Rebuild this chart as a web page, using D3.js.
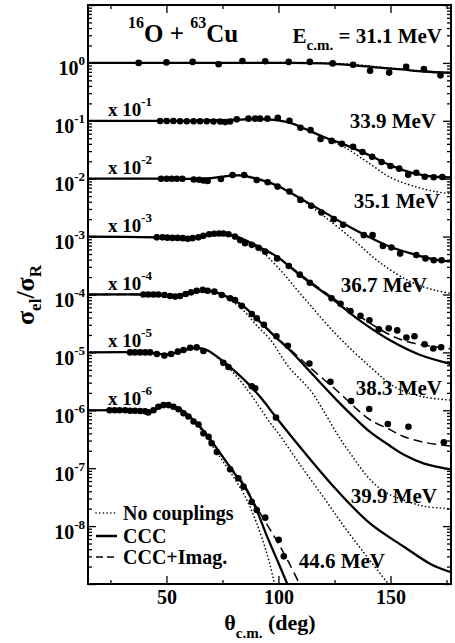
<!DOCTYPE html>
<html>
<head>
<meta charset="utf-8">
<script src="https://cdn.jsdelivr.net/npm/d3@7"></script>
<style>
  body { margin: 0; background: #fff; }
  svg text { font-family: "Liberation Serif", "Times New Roman", serif; font-weight: bold; fill: #000; }
</style>
</head>
<body>
<div id="chart"></div>
<script>
// elastic scattering 16O + 63Cu, ratio to Rutherford, each energy offset by 10^-k

// measured points [theta_cm, sigma/sigmaR]
const data311 = [[37.6,1.0],[50,1.02],[61.7,1.04],[73.3,0.95],[83.9,1.08],[94.1,1.07],[104.6,1.04],[114,1.04],[124.2,0.98],[133.3,0.93],[140.9,0.73],[149.4,0.68],[157,0.86],[164.9,0.78],[172.3,0.61]];
const data339 = [[47.2,0.99],[50.1,0.99],[53.1,0.99],[56.1,0.98],[59.1,0.98],[62.1,0.98],[65,0.98],[68,0.98],[71,0.97],[74,0.97],[76.2,0.95],[78.4,0.97],[81.4,1.06],[86.6,1.09],[89.6,1.09],[91.8,1.09],[95.1,1.09],[99.7,1.13],[104.9,1.0],[109.8,0.76],[114.3,0.69],[118.8,0.485],[123.7,0.45],[128.3,0.4],[133.3,0.357],[137.5,0.289],[141.8,0.24],[146,0.194],[150,0.166],[153.9,0.149],[157.9,0.117],[161.5,0.127],[165.3,0.108],[169.3,0.106],[173.1,0.107]];
const data351 = [[47.6,1.0],[50.1,1.0],[52.4,1.0],[54.6,1.0],[57.1,1.0],[62.2,0.97],[64.6,0.96],[66.5,0.93],[68.4,0.91],[74.3,0.99],[79.5,1.16],[84.7,1.16],[90.3,0.95],[95.2,0.87],[99.6,0.73],[104.9,0.6],[109.8,0.43],[114.6,0.34],[119.2,0.26],[124.7,0.2],[128.9,0.16],[138.1,0.106],[142,0.106],[146.6,0.069],[150.4,0.065],[154.3,0.051],[161.5,0.048],[165.6,0.042],[169.3,0.039],[172.8,0.039]];
const data367 = [[45.7,0.97],[48.2,0.97],[50.4,0.96],[52.7,0.95],[55,0.95],[57.3,0.94],[59.5,0.92],[61.7,0.94],[64.3,0.97],[66.5,1.03],[69.1,1.1],[71.3,1.12],[73.5,1.13],[75.4,1.13],[77.7,1.1],[80.6,1.0],[82.9,0.87],[85.1,0.77],[88.1,0.72],[91.1,0.64],[94.1,0.55],[99.4,0.42],[104.6,0.31],[109.5,0.22],[114,0.16],[123.7,0.086],[127.7,0.069],[132.1,0.052],[136.6,0.043],[140.6,0.036],[144.8,0.025],[149.2,0.026],[153,0.024],[157.1,0.018],[160.7,0.019],[165.2,0.0138],[169.1,0.0117],[172.6,0.0123]];
const data383 = [[39.7,1.0],[41.9,1.0],[44.2,1.0],[46.4,1.0],[49.1,0.98],[51.6,0.94],[53.9,0.92],[56.1,0.94],[58.6,1.02],[61,1.09],[63.5,1.16],[66.2,1.2],[68.4,1.16],[71.4,1.12],[74.7,0.98],[78.4,0.86],[80.6,0.8],[83.6,0.64],[88.1,0.46],[90.3,0.39],[93.5,0.3],[99.1,0.19],[104.2,0.13],[113.8,0.064],[123.2,0.031],[132.4,0.0145],[140.5,0.0105],[148.8,0.0058],[158,0.0052],[173.8,0.0028]];
const data399 = [[33.8,1.0],[36,1.0],[38.3,1.0],[40.5,1.0],[42.7,1.0],[45.7,0.94],[49.1,0.88],[52.1,0.94],[55.1,1.03],[57.6,1.1],[60.6,1.2],[63.5,1.22],[66.5,1.06],[75.4,0.66],[77.7,0.56],[88.1,0.26],[89.6,0.24],[98.9,0.075]];
const data446 = [[24.6,1.0],[26.9,1.0],[29.1,1.0],[31.6,1.0],[33.8,0.98],[36,0.98],[38.3,0.97],[40.5,0.96],[41.9,0.92],[44.2,1.0],[46.4,1.15],[48.7,1.23],[50.9,1.23],[53.1,1.15],[55.4,1.04],[57.6,0.89],[59.8,0.78],[62.1,0.64],[64.3,0.57],[66.5,0.4],[68.8,0.35],[70.2,0.27],[72.5,0.19],[78.4,0.096],[82.1,0.067],[84.4,0.048],[88.1,0.026],[90.3,0.019],[94.1,0.014],[100.1,0.0058],[102.4,0.003]];

// CCC calculations (solid)
const ccc311 = [[15,1],[60,1],[100,1],[120,0.98],[135,0.9],[145,0.83],[155,0.77],[165,0.71],[177,0.67]];
const ccc339 = [[15,1],[45,1],[60,1.0],[80,1.04],[95,1.06],[105,0.93],[112,0.72],[120,0.53],[130,0.38],[140,0.26],[150,0.17],[160,0.125],[170,0.108],[177,0.105]];
const ccc351 = [[15,1],[45,1],[60,0.99],[70,1.02],[78,1.12],[84,1.13],[90,1.0],[95,0.88],[100,0.74],[110,0.45],[120,0.27],[130,0.16],[140,0.1],[150,0.066],[160,0.05],[170,0.04],[177,0.037]];
const ccc367 = [[15,1],[45,0.97],[55,0.95],[62,0.96],[68,1.05],[74,1.1],[80,1.03],[86,0.84],[92,0.64],[99,0.46],[110,0.21],[123,0.09],[137,0.034],[150,0.016],[163,0.0091],[177,0.0063]];
const ccc383 = [[15,1],[40,1],[50,0.97],[55,0.94],[62,1.08],[67,1.17],[72,1.1],[78,0.88],[85,0.6],[92,0.33],[99,0.18],[105,0.11],[114,0.047],[119,0.029],[126,0.015],[135,0.0068],[141,0.0042],[150,0.0024],[156,0.0017],[165,0.0012],[177,0.00095]];
const ccc399 = [[15,1],[40,1],[45,0.97],[50,0.92],[55,1.0],[60,1.15],[64,1.2],[68,1.1],[75,0.72],[82,0.42],[88,0.25],[93,0.15],[99,0.075],[111,0.02],[126,0.0042],[141,0.0011],[156,0.00044],[168,0.00022],[177,0.00016]];
const ccc446 = [[15,1],[35,1],[40,0.98],[43,0.97],[47,1.12],[51,1.2],[55,1.1],[60,0.8],[65,0.52],[70,0.3],[75,0.16],[80,0.085],[85,0.047],[90,0.02],[95,0.0065],[100,0.0023],[105,0.0008]];

// CCC + imaginary potential (dashed)
const imag367 = [[15,1],[45,0.97],[55,0.95],[62,0.96],[68,1.05],[74,1.1],[80,1.03],[86,0.84],[92,0.64],[99,0.46],[110,0.22],[123,0.095],[137,0.04],[151,0.019],[160,0.0145],[170,0.0125],[177,0.0115]];
const imag383 = [[15,1],[40,1],[50,0.97],[55,0.94],[62,1.08],[67,1.17],[72,1.1],[78,0.88],[85,0.6],[92,0.33],[99,0.18],[105,0.115],[114,0.055],[126,0.022],[135,0.0105],[141,0.0068],[150,0.0046],[156,0.0035],[165,0.0028],[177,0.0024]];
const imag446 = [[15,1],[35,1],[40,0.98],[43,0.97],[47,1.12],[51,1.2],[55,1.1],[60,0.8],[65,0.52],[70,0.3],[75,0.16],[80,0.09],[85,0.05],[90,0.022],[95,0.0105],[100,0.005],[105,0.0022],[110,0.0009]];

// no couplings (dotted)
const noc311 = [[15,1],[60,1],[100,1.01],[120,1.0],[135,0.93],[145,0.85],[155,0.78],[165,0.72],[177,0.68]];
const noc339 = [[15,1],[45,1],[60,1.0],[80,1.05],[95,1.07],[105,0.93],[112,0.72],[120,0.52],[130,0.34],[140,0.19],[150,0.105],[160,0.075],[170,0.06],[177,0.055]];
const noc351 = [[15,1],[45,1],[60,0.99],[70,1.03],[78,1.14],[84,1.16],[90,1.03],[95,0.9],[100,0.74],[110,0.44],[120,0.23],[133.6,0.087],[145.5,0.035],[159,0.0166],[170,0.0118],[177,0.0105]];
const noc367 = [[15,1],[45,0.97],[55,0.95],[62,0.97],[68,1.06],[74,1.12],[80,1.04],[86,0.82],[92,0.58],[101,0.26],[111,0.091],[126,0.02],[141,0.0056],[153,0.0024],[165,0.0017],[177,0.0015]];
const noc383 = [[15,1],[40,1],[50,0.97],[55,0.94],[62,1.08],[67,1.17],[72,1.08],[78,0.84],[85,0.5],[90,0.3],[96.4,0.165],[104.6,0.056],[114.3,0.022],[120,0.01],[126,0.004],[133,0.0016],[141,0.00063],[148,0.00038],[156,0.00028],[165,0.00022],[177,0.0002]];
const noc399 = [[15,1],[40,1],[45,0.97],[50,0.92],[55,1.0],[60,1.15],[64,1.2],[68,1.08],[75,0.68],[82,0.36],[88,0.18],[96.4,0.06],[100,0.04],[110,0.011],[120,0.0032],[130,0.0009],[140,0.00028],[150,0.00009]];
const noc446 = [[15,1],[35,1],[40,0.98],[43,0.97],[47,1.12],[51,1.2],[55,1.1],[60,0.78],[65,0.48],[70,0.26],[75,0.135],[80,0.07],[85,0.033],[90,0.012],[95,0.0032],[98,0.0011],[100,0.0005]];

const energyLabels = ["31.1", "33.9", "35.1", "36.7", "38.3", "39.9", "44.6"];
const offsetExp = [0, -1, -2, -3, -4, -5, -6];
const xTicks = [50, 100, 150];
const xMinor = [25, 75, 125, 175];
const yLabelExp = [0, -1, -2, -3, -4, -5, -6, -7, -8];

const sets = [
  { e: energyLabels[0], k: offsetExp[0], pts: data311, ccc: ccc311, noc: noc311, imag: null },
  { e: energyLabels[1], k: offsetExp[1], pts: data339, ccc: ccc339, noc: noc339, imag: null },
  { e: energyLabels[2], k: offsetExp[2], pts: data351, ccc: ccc351, noc: noc351, imag: null },
  { e: energyLabels[3], k: offsetExp[3], pts: data367, ccc: ccc367, noc: noc367, imag: imag367 },
  { e: energyLabels[4], k: offsetExp[4], pts: data383, ccc: ccc383, noc: noc383, imag: imag383 },
  { e: energyLabels[5], k: offsetExp[5], pts: data399, ccc: ccc399, noc: noc399, imag: null },
  { e: energyLabels[6], k: offsetExp[6], pts: data446, ccc: ccc446, noc: noc446, imag: imag446 }
];

const width = 455, height = 643;
const pLeft = 88, pRight = 451, pTop = 5, pBottom = 584;

const svg = d3.select("#chart").append("svg")
  .attr("width", width).attr("height", height);

const x = d3.scaleLinear().domain([15, 177]).range([pLeft, pRight]);
const y = d3.scaleLog().domain([1e-9, 10]).range([pBottom, pTop]);

svg.append("clipPath").attr("id", "plotclip")
  .append("rect").attr("x", pLeft).attr("y", pTop)
  .attr("width", pRight - pLeft).attr("height", pBottom - pTop);

// ---- axes: ticks inward on all four sides
const majorY = d3.range(-9, 2).map(e => +("1e" + e));
const minorY = [];
d3.range(-9, 1).forEach(e => { for (let m = 2; m <= 9; m++) minorY.push(m * +("1e" + e)); });

function clean(g) {
  g.attr("font-size", null).attr("font-family", null);
  g.select(".domain").remove();
  g.selectAll(".tick line").attr("stroke-width", 1.3);
}

const yLeft = svg.append("g").attr("transform", `translate(${pLeft},0)`)
  .call(d3.axisLeft(y).tickValues(majorY).tickSizeInner(-8).tickSizeOuter(0).tickPadding(3).tickFormat(""))
  .call(clean);
yLeft.selectAll(".tick text").each(function (d) {
  const e = Math.round(Math.log10(d));
  if (!yLabelExp.includes(e)) return;
  const t = d3.select(this).attr("dy", "0.6em").style("font-size", "20px");
  t.append("tspan").text("10");
  t.append("tspan").attr("dy", -10).style("font-size", "13px").text(e);
});
svg.append("g").attr("transform", `translate(${pLeft},0)`)
  .call(d3.axisLeft(y).tickValues(minorY).tickSizeInner(-4).tickSizeOuter(0).tickFormat(""))
  .call(clean);
svg.append("g").attr("transform", `translate(${pRight},0)`)
  .call(d3.axisRight(y).tickValues(majorY).tickSizeInner(-8).tickSizeOuter(0).tickFormat(""))
  .call(clean);
svg.append("g").attr("transform", `translate(${pRight},0)`)
  .call(d3.axisRight(y).tickValues(minorY).tickSizeInner(-4).tickSizeOuter(0).tickFormat(""))
  .call(clean);

const xBottom = svg.append("g").attr("transform", `translate(0,${pBottom})`)
  .call(d3.axisBottom(x).tickValues(xTicks).tickSizeInner(-8).tickSizeOuter(0).tickPadding(6).tickFormat(d3.format("d")))
  .call(clean);
xBottom.selectAll(".tick text").style("font-size", "20px");
svg.append("g").attr("transform", `translate(0,${pBottom})`)
  .call(d3.axisBottom(x).tickValues(xMinor).tickSizeInner(-4).tickSizeOuter(0).tickFormat(""))
  .call(clean);
svg.append("g").attr("transform", `translate(0,${pTop})`)
  .call(d3.axisTop(x).tickValues(xTicks).tickSizeInner(-8).tickSizeOuter(0).tickFormat(""))
  .call(clean);
svg.append("g").attr("transform", `translate(0,${pTop})`)
  .call(d3.axisTop(x).tickValues(xMinor).tickSizeInner(-4).tickSizeOuter(0).tickFormat(""))
  .call(clean);

// ---- curves
const plot = svg.append("g").attr("clip-path", "url(#plotclip)");

function lineFor(k) {
  const f = Math.pow(10, k);
  return d3.line()
    .x(d => x(d[0]))
    .y(d => y(d[1] * f))
    .curve(d3.curveCatmullRom.alpha(0.5));
}

sets.forEach(s => {
  const ln = lineFor(s.k);
  plot.append("path").attr("d", ln(s.noc))
    .attr("fill", "none").attr("stroke", "#000").attr("stroke-width", 1.6)
    .attr("stroke-linecap", "round").attr("stroke-dasharray", "0.1,3.6");
  if (s.imag) {
    plot.append("path").attr("d", ln(s.imag))
      .attr("fill", "none").attr("stroke", "#000").attr("stroke-width", 1.5)
      .attr("stroke-dasharray", "9,5");
  }
  plot.append("path").attr("d", ln(s.ccc))
    .attr("fill", "none").attr("stroke", "#000").attr("stroke-width", 2.3);
});

sets.forEach(s => {
  const f = Math.pow(10, s.k);
  plot.selectAll(null).data(s.pts).join("circle")
    .attr("cx", d => x(d[0]))
    .attr("cy", d => y(d[1] * f))
    .attr("r", 3.3)
    .attr("fill", "#000");
});

// frame
svg.append("rect").attr("x", pLeft).attr("y", pTop)
  .attr("width", pRight - pLeft).attr("height", pBottom - pTop)
  .attr("fill", "none").attr("stroke", "#000").attr("stroke-width", 2);

// ---- offset labels "x 10^-k"
sets.forEach(s => {
  if (s.k === 0) return;
  const t = svg.append("text")
    .attr("x", 108).attr("y", y(Math.pow(10, s.k)) - 5)
    .style("font-size", "19px");
  t.append("tspan").text("x 10");
  t.append("tspan").attr("dy", -10).style("font-size", "13px").text(s.k);
});

// ---- energy labels
const ePos = [
  null,
  [436, 128], [440, 208], [427, 292], [442, 395], [437, 503], [385, 568]
];
sets.forEach((s, i) => {
  if (i === 0) return;
  svg.append("text")
    .attr("x", ePos[i][0]).attr("y", ePos[i][1])
    .attr("text-anchor", "end")
    .style("font-size", "21px")
    .text(s.e + " MeV");
});

const eTop = svg.append("text").attr("x", 442).attr("y", 43)
  .attr("text-anchor", "end").style("font-size", "21px");
eTop.append("tspan").text("E");
eTop.append("tspan").attr("dy", 7).style("font-size", "15px").text("c.m.");
eTop.append("tspan").attr("dy", -7).text(" = " + energyLabels[0] + " MeV");

// reaction title
const title = svg.append("text").attr("x", 128).attr("y", 42).style("font-size", "25px");
title.append("tspan").attr("dy", -14).style("font-size", "16px").text("16");
title.append("tspan").attr("dy", 14).text("O + ");
title.append("tspan").attr("dy", -14).style("font-size", "16px").text("63");
title.append("tspan").attr("dy", 14).text("Cu");

// ---- axis titles
const yt = svg.append("text")
  .attr("transform", "translate(34,295) rotate(-90)")
  .attr("text-anchor", "middle").style("font-size", "26px");
yt.append("tspan").text("σ");
yt.append("tspan").attr("dy", 7).style("font-size", "17px").text("el");
yt.append("tspan").attr("dy", -7).text("/σ");
yt.append("tspan").attr("dy", 7).style("font-size", "17px").text("R");

const xt = svg.append("text").attr("x", 270).attr("y", 630)
  .attr("text-anchor", "middle").style("font-size", "22px");
xt.append("tspan").text("θ");
xt.append("tspan").attr("dy", 8).style("font-size", "15px").text("c.m.");
xt.append("tspan").attr("dy", -8).text(" (deg)");

// ---- legend
const legendItems = [
  { name: "No couplings", dash: "0.1,3.6", w: 1.6, cap: "round" },
  { name: "CCC", dash: null, w: 2.5, cap: "butt" },
  { name: "CCC+Imag.", dash: "7,4", w: 1.6, cap: "butt" }
];
const legY = [513, 536, 557];
legendItems.forEach((it, i) => {
  svg.append("line")
    .attr("x1", 96).attr("x2", 117).attr("y1", legY[i]).attr("y2", legY[i])
    .attr("stroke", "#000").attr("stroke-width", it.w)
    .attr("stroke-linecap", it.cap)
    .attr("stroke-dasharray", it.dash);
  svg.append("text").attr("x", 123).attr("y", legY[i] + 6.5)
    .style("font-size", "20px").text(it.name);
});
</script>
</body>
</html>
